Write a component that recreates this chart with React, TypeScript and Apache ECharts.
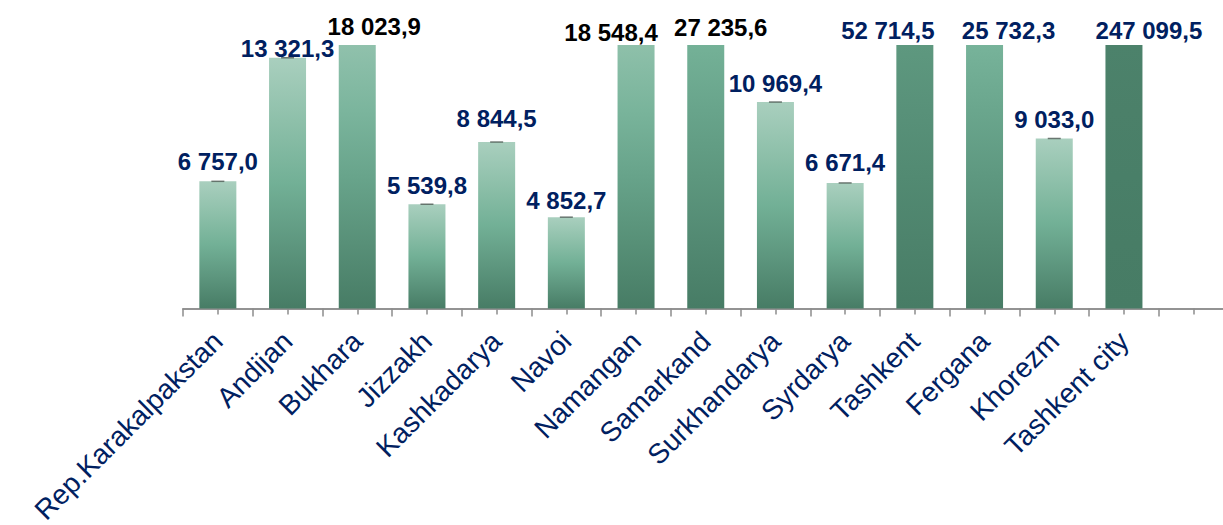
import React, { useEffect, useRef } from "react";
import * as echarts from "echarts";

const categories = [
  "Rep.Karakalpakstan",
  "Andijan",
  "Bukhara",
  "Jizzakh",
  "Kashkadarya",
  "Navoi",
  "Namangan",
  "Samarkand",
  "Surkhandarya",
  "Syrdarya",
  "Tashkent",
  "Fergana",
  "Khorezm",
  "Tashkent city",
  "",
];
const values: (number | null)[] = [
  6757.0, 13321.3, 18023.9, 5539.8, 8844.5, 4852.7, 18548.4, 27235.6, 10969.4,
  6671.4, 52714.5, 25732.3, 9033.0, 247099.5, null,
];
const axisMax = 14000;
const blackLabelCategories = ["Bukhara", "Namangan", "Samarkand"];

// label nudges (style only)
const labelOffset: Record<string, [number, number]> = {
  Andijan: [0, 10],
  Bukhara: [17, 0],
  Namangan: [-25, 6],
  Samarkand: [15, 1],
  Tashkent: [-27, 4],
  Fergana: [24, 4],
  "Tashkent city": [25, 4],
  Kashkadarya: [0, -5],
  Navoi: [0, 2],
  "Rep.Karakalpakstan": [0, -1],
  Syrdarya: [0, -1],
};

const NAVY = "#002060";
const AXIS_GRAY = "#8c8c8c";
const FONT = "'Liberation Sans', Arial, Helvetica, sans-serif";

const gradStops: [number, number[]][] = [
  [0, [169, 207, 190]],
  [0.5, [114, 176, 150]],
  [1, [71, 124, 101]],
];
function colorAt(p: number): string {
  for (let i = 0; i < gradStops.length - 1; i++) {
    const [a, ca] = gradStops[i];
    const [b, cb] = gradStops[i + 1];
    if (p <= b) {
      const t = (p - a) / (b - a);
      const c = ca.map((x, k) => Math.round(x + (cb[k] - x) * t));
      return `rgb(${c[0]},${c[1]},${c[2]})`;
    }
  }
  const c = gradStops[gradStops.length - 1][1];
  return `rgb(${c[0]},${c[1]},${c[2]})`;
}
function gradientFor(v: number) {
  const vis = v > axisMax ? axisMax / v : 1;
  const start = 1 - vis;
  const cs = [0, 0.25, 0.5, 0.75, 1].map((t) => ({
    offset: t,
    color: colorAt(start + t * vis),
  }));
  return new echarts.graphic.LinearGradient(0, 0, 0, 1, cs);
}
function fmt(v: number): string {
  const [i, d] = v.toFixed(1).split(".");
  return i.replace(/\B(?=(\d{3})+(?!\d))/g, " ") + "," + d;
}

export default function App() {
  const ref = useRef<HTMLDivElement>(null);
  useEffect(() => {
    if (!ref.current) return;
    const chart = echarts.init(ref.current, undefined, { renderer: "svg" });
    const barData = values.map((v, i) => {
      if (v == null) return "-";
      const name = categories[i];
      return {
        value: Math.min(v, axisMax),
        itemStyle: { color: gradientFor(v) },
        label: {
          color: blackLabelCategories.includes(name) ? "#000000" : NAVY,
          offset: labelOffset[name] || [0, 0],
        },
      };
    });
    const capData = values.map((v) => (v != null && v < axisMax ? v : "-"));
    chart.setOption({
      animation: false,
      grid: {
        left: 183,
        top: 45,
        width: 15 * 69.7,
        height: 263.5,
        outerBoundsMode: "none",
        containLabel: false,
      },
      xAxis: [
        {
          type: "category",
          data: categories,
          position: "bottom",
          axisLine: { show: true, lineStyle: { color: AXIS_GRAY, width: 1.5 } },
          axisTick: {
            show: true,
            alignWithLabel: false,
            length: 8,
            lineStyle: { color: AXIS_GRAY, width: 1.5 },
          },
          axisLabel: {
            interval: 0,
            rotate: 45,
            margin: 28,
            color: NAVY,
            fontSize: 28,
            fontFamily: FONT,
          },
        },
        {
          type: "category",
          data: categories,
          position: "bottom",
          axisLine: { show: true, lineStyle: { color: AXIS_GRAY, width: 1.5 } },
          axisTick: {
            show: true,
            interval: 0,
            alignWithLabel: true,
            length: 6,
            lineStyle: { color: AXIS_GRAY, width: 1.5 },
          },
          axisLabel: { show: false },
        },
      ],
      yAxis: {
        type: "value",
        min: 0,
        max: axisMax,
        show: false,
        splitLine: { show: false },
      },
      series: [
        {
          type: "bar",
          data: barData,
          barWidth: 37,
          label: {
            show: true,
            position: "top",
            distance: 7,
            fontSize: 24,
            fontWeight: "bold",
            fontFamily: FONT,
            formatter: (p: any) => fmt(values[p.dataIndex] as number),
          },
        },
        {
          type: "scatter",
          data: capData,
          symbol: "rect",
          symbolSize: [13, 1.5],
          itemStyle: { color: "#4d5a54" },
          z: 5,
        },
      ],
    });
    return () => chart.dispose();
  }, []);
  return (
    <div
      style={{
        position: "fixed",
        left: 0,
        top: 0,
        width: 1223,
        height: 525,
        overflow: "hidden",
        background: "#fff",
      }}
    >
      <div ref={ref} style={{ width: 1240, height: 525 }} />
    </div>
  );
}
